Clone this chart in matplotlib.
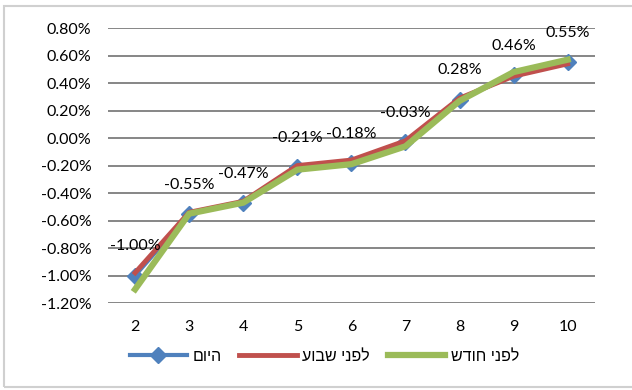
import numpy as np
import matplotlib.pyplot as plt
from matplotlib.patches import Rectangle
from matplotlib.ticker import FuncFormatter

# maturity (years) on the x axis
years = [2, 3, 4, 5, 6, 7, 8, 9, 10]

# yield change, percent
today = [-1.00, -0.55, -0.47, -0.21, -0.18, -0.03, 0.28, 0.46, 0.55]
week_ago = [-0.98, -0.54, -0.46, -0.20, -0.16, -0.02, 0.29, 0.45, 0.54]
month_ago = [-1.10, -0.55, -0.47, -0.23, -0.19, -0.06, 0.27, 0.48, 0.57]

series_names = ["היום", "לפני שבוע", "לפני חודש"]
yticks = [-1.2, -1.0, -0.8, -0.6, -0.4, -0.2, 0.0, 0.2, 0.4, 0.6, 0.8]

plt.rcParams['font.family'] = ['Lato', 'Liberation Sans', 'DejaVu Sans']


def rtl(s):
    # matplotlib lays text out left to right, so flip hebrew strings
    return s[::-1]


fig = plt.figure(figsize=(6.32, 3.9), dpi=100)
ax = fig.add_axes([0.171, 0.223, 0.770, 0.705])

x = np.arange(len(years))
ax.plot(x, today, color="#4F81BD", lw=3, marker="D", ms=8.5,
        label=rtl(series_names[0]), zorder=3)
ax.plot(x, week_ago, color="#C0504D", lw=3.5, label=rtl(series_names[1]), zorder=4)
ax.plot(x, month_ago, color="#9BBB59", lw=4.5, label=rtl(series_names[2]), zorder=5)

for xi, v in zip(x, today):
    ax.annotate("{:.2f}%".format(v), (xi, v), xytext=(0, 21), textcoords="offset points",
                ha="center", va="center", fontsize=11.5, color="black", zorder=6)

ax.set_xlim(-0.5, len(years) - 0.5)
ax.set_ylim(-1.2, 0.8)
ax.set_xticks(x)
ax.set_xticklabels([str(y) for y in years])
ax.set_yticks(yticks)
ax.yaxis.set_major_formatter(FuncFormatter(lambda v, p: "{:.2f}%".format(v)))
ax.tick_params(axis="both", length=0, labelsize=11.5)
ax.tick_params(axis="y", pad=12)
ax.tick_params(axis="x", pad=12)
ax.grid(axis="y", color="#868686", lw=1.4)
ax.set_axisbelow(True)
for sp in ax.spines.values():
    sp.set_visible(False)

leg = fig.legend(loc="center", bbox_to_anchor=(0.513, 0.087), ncol=3, frameon=False,
                 handlelength=3.6, handletextpad=0.35, columnspacing=1.1,
                 prop={'family': ['Liberation Sans', 'DejaVu Sans'], 'size': 11.5})

fig.patches.append(Rectangle((4 / 632, 3 / 390), 640 / 632, 381 / 390, transform=fig.transFigure,
                             fill=False, edgecolor="#D0D0D0", lw=1.5))

fig.savefig("out.png", dpi=100)
